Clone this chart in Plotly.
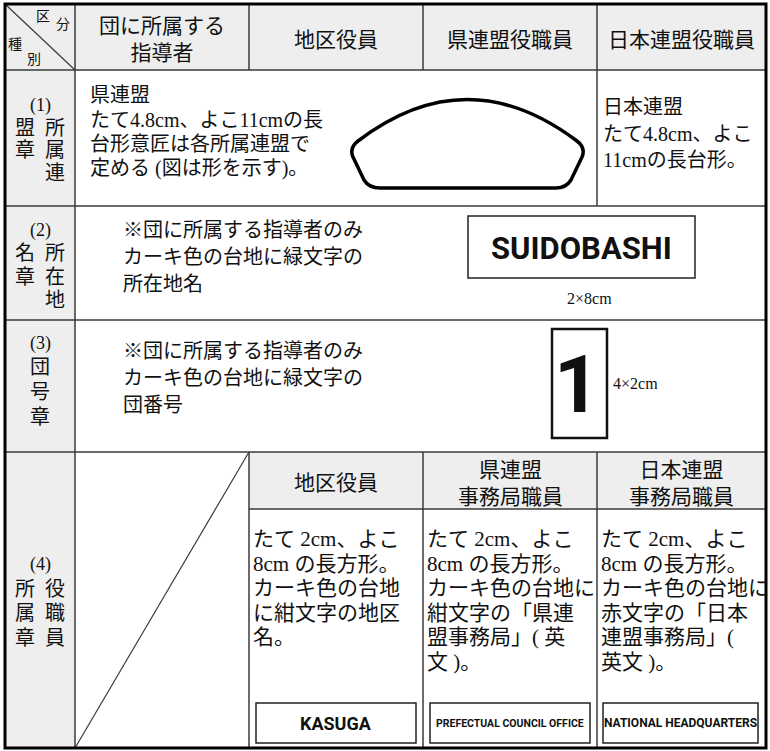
import plotly.graph_objects as go

# ---------------- text content ----------------
corner_labels = ["区", "分", "種", "別"]
header_first = ["団に所属する", "指導者"]
header_officers = ["地区役員", "県連盟役職員", "日本連盟役職員"]

row_numbers = ["(1)", "(2)", "(3)", "(4)"]
row1_label = [("盟", "所"), ("章", "属"), ("", "連")]
row2_label = [("名", "所"), ("章", "在"), ("", "地")]
row3_label = ["団", "号", "章"]
row4_label = [("所", "役"), ("属", "職"), ("章", "員")]

row1_text_left = ["県連盟", "たて4.8cm、よこ11cmの長", "台形意匠は各所属連盟で", "定める (図は形を示す)。"]
row1_text_right = ["日本連盟", "たて4.8cm、よこ", "11cmの長台形。"]

row2_text = ["※団に所属する指導者のみ", "カーキ色の台地に緑文字の", "所在地名"]
row2_badge = "SUIDOBASHI"
row2_size = "2×8cm"

row3_text = ["※団に所属する指導者のみ", "カーキ色の台地に緑文字の", "団番号"]
row3_badge = "1"
row3_size = "4×2cm"

row4_subheaders = [["地区役員"], ["県連盟", "事務局職員"], ["日本連盟", "事務局職員"]]
row4_desc = [
    ["たて 2cm、よこ", "8cm の長方形。", "カーキ色の台地", "に紺文字の地区", "名。"],
    ["たて 2cm、よこ", "8cm の長方形。", "カーキ色の台地に", "紺文字の「県連", "盟事務局」( 英", "文 )。"],
    ["たて 2cm、よこ", "8cm の長方形。", "カーキ色の台地に", "赤文字の「日本", "連盟事務局」(", "英文 )。"],
]
row4_badges = ["KASUGA", "PREFECTUAL COUNCIL OFFICE", "NATIONAL HEADQUARTERS"]

# ---------------- geometry (layout) ----------------
W, H = 770, 751
XL, XR = 5, 766          # outer border
YT, YB = 4, 748
COLS = [XL, 75, 249, 423, 597, XR]
ROWS = [YT, 70, 206, 320, 452, YB]
SUB_Y = 509
GRAY = "#eeeeee"
LINE = "#3a3a3a"
INK = "#111111"

BODY = "Liberation Serif, Noto Sans CJK JP, serif"
HEAD = "Noto Sans CJK JP, sans-serif"
BADGE = "Roboto, Liberation Sans, Arial, sans-serif"

shapes = []
ann = []


def rect(x0, y0, x1, y1, fill=None, lw=0, color=LINE, layer="below"):
    shapes.append(dict(type="rect", xref="x", yref="y", x0=x0, y0=y0, x1=x1, y1=y1,
                       fillcolor=fill if fill else "rgba(0,0,0,0)",
                       line=dict(width=lw, color=color), layer=layer))


def line(x0, y0, x1, y1, lw=1.5, color=LINE):
    shapes.append(dict(type="line", xref="x", yref="y", x0=x0, y0=y0, x1=x1, y1=y1,
                       line=dict(width=lw, color=color), layer="above"))


def txt(x, y, s, size=20, anchor="left", family=BODY, color=INK):
    ann.append(dict(x=x, y=y, xref="x", yref="y", text=s, showarrow=False,
                    xanchor=anchor, yanchor="middle",
                    font=dict(size=size, family=family, color=color)))


# gray backgrounds
rect(XL, YT, XR, ROWS[1], fill=GRAY)                 # header row
rect(XL, ROWS[1], COLS[1], YB, fill=GRAY)            # left label column
rect(COLS[2], ROWS[4], XR, SUB_Y, fill=GRAY)         # row-4 sub header

# grid lines
for y in ROWS[1:5]:
    line(XL, y, XR, y)
line(COLS[2], SUB_Y, XR, SUB_Y)
line(COLS[1], YT, COLS[1], YB)                        # label column
for cx in COLS[2:5]:
    line(cx, YT, cx, ROWS[1])                         # header columns
    line(cx, ROWS[4], cx, YB)                         # row-4 columns
line(COLS[4], ROWS[1], COLS[4], ROWS[2])              # row-1 split
# diagonals
line(XL, YT, COLS[1], ROWS[1], lw=1.2)
line(COLS[2], ROWS[4], COLS[1], YB, lw=1.2)
# outer border
rect(XL, YT, XR, YB, lw=3, color="#000000", layer="above")

# ---------------- header ----------------
txt(43, 16, corner_labels[0], size=14, anchor="center", family=BODY)
txt(63, 24, corner_labels[1], size=14, anchor="center", family=BODY)
txt(15, 44, corner_labels[2], size=14, anchor="center", family=BODY)
txt(34, 59, corner_labels[3], size=14, anchor="center", family=BODY)

txt((COLS[1] + COLS[2]) / 2, 37, "<br>".join(header_first), size=21, anchor="center", family=HEAD)
for i, h in enumerate(header_officers):
    txt((COLS[2 + i] + COLS[3 + i]) / 2, 38, h, size=21, anchor="center", family=HEAD)

# ---------------- row labels ----------------
LX, RX, MX = 25, 55, 40


def pair_label(num, pairs, y0, step):
    txt(MX, y0, num, size=18, anchor="center")
    for k, (a, b) in enumerate(pairs):
        y = y0 + step * (k + 1)
        if a:
            txt(LX, y, a, size=20, anchor="center")
        if b:
            txt(RX, y, b, size=20, anchor="center")


pair_label(row_numbers[0], row1_label, 105, 22.5)
pair_label(row_numbers[1], row2_label, 230, 23.3)
txt(MX, 343, row_numbers[2], size=18, anchor="center")
for k, c in enumerate(row3_label):
    txt(MX, 367 + 25 * k, c, size=20, anchor="center")
pair_label(row_numbers[3], row4_label, 564, 24.5)

# ---------------- row 1 ----------------
for k, s in enumerate(row1_text_left):
    txt(88, 95 + 24.5 * k, s)
for k, s in enumerate(row1_text_right):
    txt(601, 107 + 26.5 * k, s)
# emblem outline
shapes.append(dict(type="path", xref="x", yref="y", layer="above",
                   path=("M 380,188 L 556,188 Q 566,188 571,180 L 582,157 Q 586,148 577,141 "
                         "Q 467,58 358,141 Q 349,148 353,157 L 364,180 Q 369,188 380,188 Z"),
                   line=dict(width=3.5, color="#000000"), fillcolor="rgba(0,0,0,0)"))

# ---------------- row 2 ----------------
for k, s in enumerate(row2_text):
    txt(121, 230 + 27 * k, s)
rect(468, 216, 695, 278, lw=1.5, color="#222222", layer="above")
txt(581.5, 248, "<b>" + row2_badge + "</b>", size=31, anchor="center", family=BADGE)
txt(589, 298, row2_size, size=16, anchor="center")

# ---------------- row 3 ----------------
for k, s in enumerate(row3_text):
    txt(121, 351 + 27 * k, s)
rect(552, 329, 607, 438, lw=2.5, color="#111111", layer="above")
txt(577, 385, "<b>" + row3_badge + "</b>", size=80, anchor="center", family=BADGE)
txt(611, 383, row3_size, size=16, anchor="left")

# ---------------- row 4 ----------------
for i, sub in enumerate(row4_subheaders):
    cx = (COLS[2 + i] + COLS[3 + i]) / 2
    txt(cx, 481, "<br>".join(sub), size=21, anchor="center", family=HEAD)

desc_x = [251, 425, 599]
for i, lines in enumerate(row4_desc):
    for k, s in enumerate(lines):
        txt(desc_x[i], 539 + 24.5 * k, s, size=21)

badge_boxes = [(256, 416), (430, 590), (603, 758)]
badge_sizes = [18, 10.5, 12]
for (x0, x1), b, fs in zip(badge_boxes, row4_badges, badge_sizes):
    rect(x0, 703, x1, 743, lw=1.5, color="#222222", layer="above")
    txt((x0 + x1) / 2, 723, "<b>" + b + "</b>", size=fs, anchor="center", family=BADGE)

fig = go.Figure()
fig.add_trace(go.Scatter(x=[0, W], y=[0, H], mode="markers",
                         marker=dict(opacity=0), hoverinfo="skip", showlegend=False))
fig.update_layout(
    width=W, height=H,
    margin=dict(l=0, r=0, t=0, b=0),
    paper_bgcolor="white", plot_bgcolor="white",
    xaxis=dict(range=[0, W], visible=False, fixedrange=True),
    yaxis=dict(range=[H, 0], visible=False, fixedrange=True),
    shapes=shapes, annotations=ann, showlegend=False,
)
fig.write_html("out.html", config={"displayModeBar": False},
               post_script="document.body.style.margin='0px';document.body.style.overflow='hidden';")
